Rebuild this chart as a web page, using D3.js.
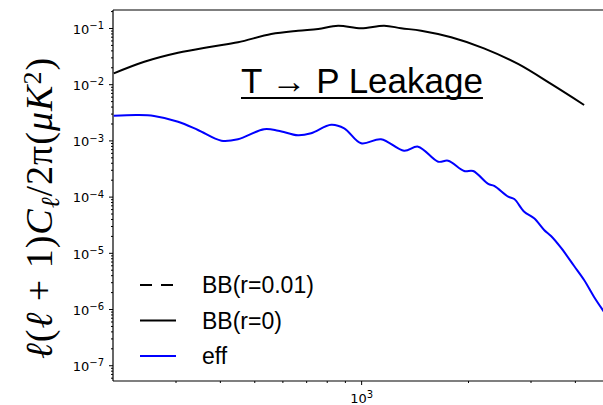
<!DOCTYPE html>
<html>
<head>
<meta charset="utf-8">
<title>T to P leakage</title>
<style>
body { margin: 0; background: #fff; }
svg { display: block; }
.tick text { font-family: "DejaVu Sans", sans-serif; font-size: 13px; fill: #000; }
.domain { display: none; }
</style>
<script src="https://cdn.jsdelivr.net/npm/d3@7"></script>
</head>
<body>
<div id="chart"></div>
<script>
// data (multipole ell, value in uK^2)
var bbEll = [201, 245, 305, 378, 450, 558, 664, 757, 861, 1000, 1161, 1296, 1476, 1793, 2218, 2767, 3427, 4247];
var bbVal = [0.0156, 0.0251, 0.0363, 0.0465, 0.0557, 0.0782, 0.0895, 0.096, 0.110, 0.0988, 0.110, 0.099, 0.0895, 0.0684, 0.0435, 0.0229, 0.0101, 0.00427];

var effEll = [201, 235, 261, 305, 347, 404, 450, 533, 584, 664, 723, 823, 896, 1000, 1138, 1321, 1447, 1648, 1758, 1951, 2068, 2280, 2370, 2596, 2700, 2880, 3071, 3277, 3427, 3659, 3981, 4247, 4531, 4836];
var effVal = [0.00275, 0.00283, 0.00272, 0.00215, 0.00153, 0.000988, 0.00105, 0.00158, 0.00149, 0.00123, 0.00134, 0.00190, 0.00164, 0.000887, 0.00105, 0.000656, 0.000773, 0.000418, 0.000436, 0.000286, 0.000286, 0.000168, 0.000155, 0.000100, 0.0000906, 0.0000538, 0.0000411, 0.0000255, 0.0000199, 0.0000122, 0.00000582, 0.00000328, 0.00000164, 0.000000885];

var yMajor = [-1, -2, -3, -4, -5, -6, -7];
var xMajor = [3];
var legendLabels = ["BB(r=0.01)", "BB(r=0)", "eff"];

var W = 603, H = 405;
var padL = 113, padT = 10, padB = 381;

var svg = d3.select("#chart").append("svg")
  .attr("width", W).attr("height", H);

var x = d3.scaleLog().domain([200, 5000]).range([padL, padL + Math.log10(25) * 355]);
var y = d3.scaleLog().domain([5.24e-8, 0.209]).range([padB, padT]);

svg.append("clipPath").attr("id", "clip")
  .append("rect").attr("x", padL).attr("y", padT)
  .attr("width", W - padL).attr("height", padB - padT);

// minor ticks
var yMinor = [];
for (var e = -8; e <= -1; e++) for (var m = 2; m <= 9; m++) {
  var v = m * Math.pow(10, e);
  if (v > 5.24e-8 && v < 0.209) yMinor.push(v);
}
var xMinor = [];
[100, 1000].forEach(function(b) {
  for (var m = 2; m <= 9; m++) { var v = m * b; if (v > 200 && v < 5000) xMinor.push(v); }
});

svg.append("g").attr("transform", "translate(" + padL + ",0)")
  .call(d3.axisLeft(y).tickValues(yMinor).tickSize(2).tickFormat(""));
var yAx = svg.append("g").attr("transform", "translate(" + padL + ",0)")
  .call(d3.axisLeft(y).tickValues(yMajor.map(function(p) { return Math.pow(10, p); }))
    .tickSize(4).tickPadding(5).tickFormat(""));
yAx.selectAll(".tick text").each(function(d) {
  var t = d3.select(this).attr("dy", "0.4em");
  t.append("tspan").text("10");
  t.append("tspan").attr("dy", "-0.45em").style("font-size", "10px")
    .text("\u2212" + Math.round(-Math.log10(d)));
});

svg.append("g").attr("transform", "translate(0," + padB + ")")
  .call(d3.axisBottom(x).tickValues(xMinor).tickSize(2).tickFormat(""));
var xAx = svg.append("g").attr("transform", "translate(0," + padB + ")")
  .call(d3.axisBottom(x).tickValues(xMajor.map(function(p) { return Math.pow(10, p); }))
    .tickSize(4).tickPadding(4).tickFormat(""));
xAx.selectAll(".tick text").each(function(d) {
  var t = d3.select(this).attr("dy", "1.05em");
  t.append("tspan").text("10");
  t.append("tspan").attr("dy", "-0.45em").style("font-size", "10px")
    .text(Math.round(Math.log10(d)));
});
svg.selectAll(".tick line").attr("stroke", "#000");

// spines
svg.append("line").attr("x1", padL).attr("x2", padL).attr("y1", padT).attr("y2", padB)
  .attr("stroke", "#000").attr("stroke-width", 1.2);
svg.append("line").attr("x1", padL).attr("x2", W).attr("y1", padB).attr("y2", padB)
  .attr("stroke", "#000").attr("stroke-width", 1.2);
svg.append("line").attr("x1", padL).attr("x2", W).attr("y1", padT).attr("y2", padT)
  .attr("stroke", "#000").attr("stroke-width", 1.2);

var line = d3.line()
  .x(function(d) { return x(d[0]); })
  .y(function(d) { return y(d[1]); })
  .curve(d3.curveCatmullRom.alpha(0.5));

var plot = svg.append("g").attr("clip-path", "url(#clip)");
plot.append("path")
  .datum(d3.zip(bbEll, bbVal))
  .attr("d", line).attr("fill", "none")
  .attr("stroke", "#000").attr("stroke-width", 2);
plot.append("path")
  .datum(d3.zip(effEll, effVal))
  .attr("d", line).attr("fill", "none")
  .attr("stroke", "#0000ff").attr("stroke-width", 2);

// y label
var yl = svg.append("text")
  .attr("transform", "translate(52,208) rotate(-90)")
  .attr("text-anchor", "middle")
  .style("font-family", "'Liberation Serif', 'DejaVu Serif', serif")
  .style("font-size", "38px")
  .style("letter-spacing", "1px");
yl.append("tspan").style("font-style", "italic").text("\u2113");
yl.append("tspan").text("(");
yl.append("tspan").style("font-style", "italic").text("\u2113");
yl.append("tspan").text(" + 1)");
yl.append("tspan").style("font-style", "italic").text("C");
yl.append("tspan").attr("dy", "0.25em").style("font-size", "26px").style("font-style", "italic").text("\u2113");
yl.append("tspan").attr("dy", "-0.18em").text("/2\u03c0(");
yl.append("tspan").style("font-style", "italic").text("\u03bcK");
yl.append("tspan").attr("dy", "-0.4em").style("font-size", "26px").text("2");
yl.append("tspan").attr("dy", "0.28em").text(")");

// title
var title = svg.append("text")
  .attr("x", 241).attr("y", 93)
  .style("font-family", "'Liberation Sans', Arial, sans-serif")
  .style("font-size", "35px")
  .text("T \u2192 P Leakage");
var tb = title.node().getBBox();
svg.append("line").attr("x1", tb.x).attr("x2", tb.x + tb.width)
  .attr("y1", 98).attr("y2", 98).attr("stroke", "#000").attr("stroke-width", 2);

// legend
var legStyles = [
  { color: "#000", dash: "12,9" },
  { color: "#000", dash: null },
  { color: "#0000ff", dash: null }
];
var leg = svg.append("g");
legendLabels.forEach(function(lab, i) {
  var yy = 285 + i * 35.5;
  leg.append("line").attr("x1", 140).attr("x2", 176).attr("y1", yy).attr("y2", yy)
    .attr("stroke", legStyles[i].color).attr("stroke-width", 2)
    .attr("stroke-dasharray", legStyles[i].dash);
  leg.append("text").attr("x", 202).attr("y", yy + 8)
    .style("font-family", "'Liberation Sans', Arial, sans-serif")
    .style("font-size", "23px")
    .text(lab);
});
</script>
</body>
</html>
